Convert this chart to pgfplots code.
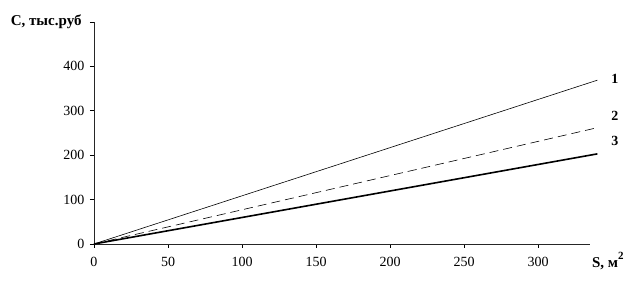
\documentclass[border=0pt]{standalone}
\usepackage{pgfplots}
\pgfplotsset{compat=1.18}
\usepackage{fontspec}
\setmainfont{Liberation Serif}
\begin{document}
\begin{tikzpicture}
\begin{axis}[
  name=ax,
  scale only axis,
  width=496pt, height=222pt,
  xmin=0, xmax=335, ymin=0, ymax=500,
  axis lines=left,
  axis line style={-, line width=0.8pt, black!85},
  xtick={0,50,...,300},
  ytick={0,100,...,500},
  yticklabels={0,100,200,300,400,},
  tick align=outside,
  major tick length=4pt,
  tick style={black, line width=0.6pt},
  ticklabel style={font=\fontsize{14}{14}\selectfont},
  /pgf/number format/assume math mode=true,
  xticklabel style={yshift=-6pt},
  yticklabel style={xshift=-2pt},
  clip=false,
]
\addplot[black, line width=0.6pt] coordinates {(0,0) (340,369)};
\addplot[black, line width=0.6pt, dash pattern=on 9pt off 5pt] coordinates {(0,0) (340,262)};
\addplot[black, line width=1.6pt] coordinates {(0,0) (340,203)};
\node[font=\fontsize{14}{14}\selectfont\bfseries, anchor=west] at (axis cs:347,372) {1};
\node[font=\fontsize{14}{14}\selectfont\bfseries, anchor=west] at (axis cs:347,288) {2};
\node[font=\fontsize{14}{14}\selectfont\bfseries, anchor=west] at (axis cs:347,233) {3};
\node[font=\fontsize{15}{15}\selectfont\bfseries, anchor=west] at (axis cs:334,-38) {S, м\raisebox{1.2ex}{\fontsize{11}{11}\selectfont 2}};
\node[font=\fontsize{15}{15}\selectfont\bfseries, anchor=east] at (axis cs:-6,500) {С, тыс.руб};
\end{axis}
\useasboundingbox ([shift={(-94pt,-37pt)}]ax.south west) rectangle ([shift={(45pt,22pt)}]ax.north east);
\end{tikzpicture}
\end{document}
